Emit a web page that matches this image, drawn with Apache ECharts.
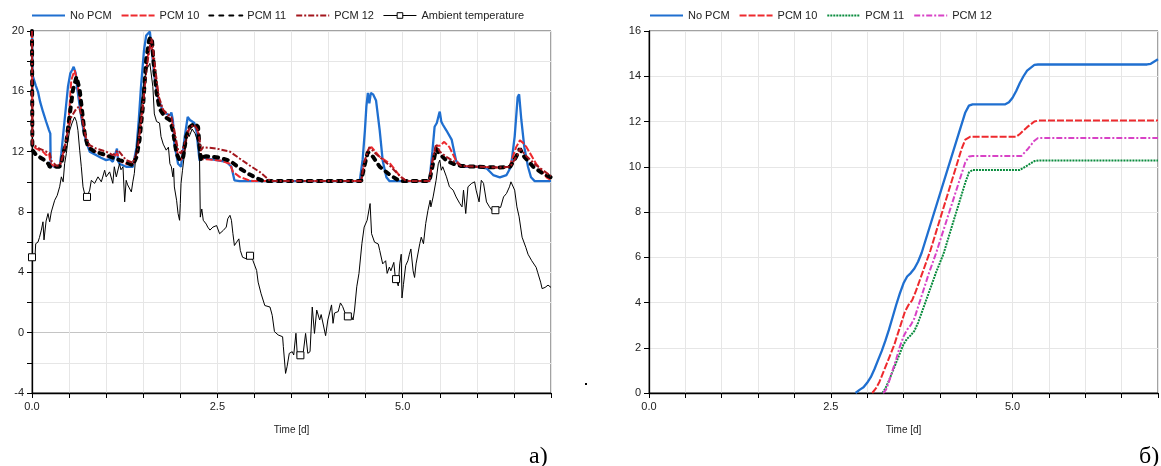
<!DOCTYPE html>
<html><head><meta charset="utf-8">
<script src="https://cdn.jsdelivr.net/npm/echarts@6/dist/echarts.min.js"></script>
<style>html,body{margin:0;padding:0;background:#fff}#c{width:1161px;height:466px}</style>
</head><body><div id="c"></div>
<script>
// ---------- Left chart (a): temperatures, [day, °C] ----------
const noPcmA = [[0,20],[0.005,17.2],[0.013,16.97],[0.05,16.4],[0.081,15.97],[0.11,15.3],[0.148,14.65],[0.19,14.0],[0.229,13.43],[0.247,13.2],[0.252,11.1],[0.30,11.0],[0.373,11.0],[0.396,11.9],[0.44,14.1],[0.485,16.3],[0.517,17.2],[0.545,17.45],[0.562,17.63],[0.575,17.7],[0.59,17.2],[0.607,16.3],[0.635,15.3],[0.665,14.3],[0.695,13.4],[0.724,12.77],[0.778,12.0],[0.868,11.77],[0.93,11.6],[1.0,11.44],[1.05,11.5],[1.09,11.33],[1.146,12.2],[1.16,11.4],[1.18,11.2],[1.27,11.0],[1.36,11.0],[1.41,12.3],[1.44,14.1],[1.47,16.3],[1.51,18.7],[1.54,19.7],[1.59,19.96],[1.62,18.5],[1.65,17.0],[1.70,15.6],[1.77,14.6],[1.82,14.5],[1.86,14.4],[1.88,14.6],[1.90,14.1],[1.92,12.5],[1.97,11.2],[2.01,11.0],[2.06,13.0],[2.10,14.3],[2.13,14.1],[2.15,14.2],[2.19,13.9],[2.22,13.3],[2.24,12.3],[2.26,11.4],[2.29,11.66],[2.35,11.55],[2.49,11.44],[2.62,11.33],[2.69,11.0],[2.71,10.55],[2.73,10.1],[2.80,10.05],[4.42,10.05],[4.46,11.5],[4.49,13.4],[4.51,15.0],[4.53,15.9],[4.55,15.2],[4.57,15.9],[4.60,15.8],[4.64,15.4],[4.69,13.4],[4.73,11.4],[4.78,10.3],[4.82,10.05],[5.36,10.05],[5.40,12.0],[5.43,13.65],[5.46,13.9],[5.49,14.5],[5.50,14.65],[5.52,14.0],[5.54,13.8],[5.59,13.4],[5.66,12.8],[5.72,11.4],[5.79,11.0],[5.86,11.0],[6.0,11.0],[6.13,10.9],[6.22,10.45],[6.31,10.3],[6.40,10.45],[6.46,11.0],[6.51,13.0],[6.55,15.6],[6.57,15.8],[6.60,14.1],[6.64,12.3],[6.69,11.0],[6.73,10.3],[6.78,10.05],[7.0,10.05]];
const pcm10A = [[0,20],[0.005,12.4],[0.058,12.2],[0.148,12.0],[0.19,11.77],[0.23,11.88],[0.25,11.2],[0.31,11.0],[0.37,11.04],[0.42,11.9],[0.46,12.6],[0.50,14.5],[0.53,16.75],[0.575,17.4],[0.60,16.9],[0.62,16.3],[0.665,14.75],[0.71,13.2],[0.755,12.43],[0.82,12.1],[0.9,11.9],[1.0,11.7],[1.09,11.6],[1.15,11.9],[1.18,11.4],[1.27,11.2],[1.36,11.1],[1.38,11.44],[1.43,12.3],[1.47,14.1],[1.52,16.3],[1.56,18.3],[1.60,19.2],[1.62,18.74],[1.65,17.4],[1.69,16.1],[1.72,15.2],[1.77,14.76],[1.83,14.3],[1.88,14.1],[1.92,13.2],[1.97,11.66],[2.01,11.44],[2.06,12.1],[2.10,13.4],[2.17,13.76],[2.22,13.65],[2.25,13.0],[2.28,11.8],[2.31,11.5],[2.35,11.5],[2.55,11.4],[2.67,11.2],[2.71,10.66],[2.80,10.33],[2.93,10.1],[2.98,10.05],[4.44,10.05],[4.48,11.2],[4.53,12.1],[4.58,12.3],[4.60,12.25],[4.69,11.66],[4.83,11.2],[4.96,10.4],[5.05,10.05],[5.36,10.05],[5.40,11.3],[5.45,12.4],[5.50,12.4],[5.56,12.65],[5.63,12.3],[5.72,11.4],[5.79,11.05],[6.0,11.0],[6.3,10.95],[6.44,11.0],[6.53,12.3],[6.58,12.75],[6.62,12.6],[6.67,12.3],[6.80,11.2],[6.94,10.3],[7.0,10.1]];
const pcm11A = [[0,20],[0.005,12.1],[0.058,11.77],[0.15,11.5],[0.22,11.2],[0.24,11.0],[0.37,11.0],[0.40,11.3],[0.42,11.9],[0.46,12.5],[0.51,14.5],[0.553,16.1],[0.60,16.97],[0.615,17.0],[0.643,16.1],[0.68,14.5],[0.71,13.2],[0.755,12.3],[0.845,12.0],[1.0,11.77],[1.09,11.6],[1.18,11.44],[1.27,11.3],[1.36,11.1],[1.41,11.66],[1.45,12.77],[1.5,15.2],[1.54,18.1],[1.58,19.4],[1.60,19.6],[1.62,19.3],[1.64,17.9],[1.68,15.9],[1.72,14.87],[1.79,14.3],[1.86,14.1],[1.90,13.4],[1.95,11.88],[1.99,11.44],[2.04,11.66],[2.08,13.0],[2.13,13.65],[2.19,13.87],[2.24,13.65],[2.26,12.3],[2.28,11.44],[2.31,11.66],[2.35,11.7],[2.53,11.6],[2.67,11.4],[2.80,10.9],[2.93,10.5],[3.05,10.2],[3.12,10.05],[4.44,10.05],[4.48,11.0],[4.53,11.98],[4.60,11.66],[4.69,11.0],[4.83,10.45],[4.96,10.05],[5.36,10.05],[5.40,11.0],[5.45,12.2],[5.49,11.9],[5.59,11.4],[5.68,11.2],[5.79,11.05],[6.0,11.0],[6.3,10.95],[6.45,11.0],[6.53,11.66],[6.58,12.2],[6.64,11.66],[6.76,11.0],[6.89,10.55],[7.0,10.3]];
const pcm12A = [[0,20],[0.005,12.5],[0.10,12.2],[0.24,11.9],[0.26,11.4],[0.33,11.06],[0.38,11.1],[0.42,11.8],[0.485,13.4],[0.53,14.3],[0.60,14.87],[0.634,14.98],[0.68,14.1],[0.724,13.0],[0.778,12.43],[0.868,12.2],[1.0,12.0],[1.09,11.77],[1.16,12.1],[1.27,11.44],[1.36,11.26],[1.41,11.88],[1.45,13.2],[1.50,15.2],[1.54,17.4],[1.59,18.96],[1.61,19.5],[1.63,18.96],[1.67,17.2],[1.71,15.65],[1.77,14.76],[1.83,14.5],[1.88,14.3],[1.92,13.4],[1.97,12.1],[2.01,11.88],[2.06,12.55],[2.13,13.65],[2.19,13.76],[2.24,13.4],[2.28,12.1],[2.31,12.3],[2.33,12.4],[2.49,12.2],[2.67,12.0],[2.80,11.55],[2.93,11.1],[3.07,10.66],[3.18,10.2],[3.22,10.05],[4.44,10.05],[4.48,11.3],[4.55,12.3],[4.64,11.85],[4.83,11.05],[4.98,10.3],[5.05,10.05],[5.36,10.05],[5.40,11.4],[5.45,12.5],[5.50,12.0],[5.59,11.66],[5.79,11.05],[6.0,11.0],[6.3,10.95],[6.45,11.0],[6.55,11.8],[6.58,12.2],[6.67,11.7],[6.80,11.1],[6.98,10.45],[7.0,10.4]];
const ambientA = [[0,5.0],[0.02,4.95],[0.04,5.0],[0.05,5.9],[0.08,6.0],[0.1,6.3],[0.126,6.8],[0.148,7.35],[0.162,6.15],[0.19,7.4],[0.216,7.9],[0.238,7.35],[0.26,8.0],[0.306,8.78],[0.34,9.1],[0.373,9.67],[0.396,10.33],[0.42,10.0],[0.44,11.2],[0.463,11.88],[0.485,12.77],[0.508,13.4],[0.54,13.9],[0.575,14.3],[0.6,14.0],[0.62,13.4],[0.643,12.1],[0.665,11.0],[0.688,9.67],[0.71,9.2],[0.742,9.0],[0.778,9.45],[0.80,10.1],[0.845,9.9],[0.89,10.33],[0.935,10.0],[0.98,10.77],[1.0,10.33],[1.047,10.66],[1.09,9.9],[1.11,11.0],[1.137,10.33],[1.18,11.2],[1.2,10.8],[1.227,11.0],[1.25,8.67],[1.27,10.1],[1.29,9.8],[1.34,9.33],[1.36,10.0],[1.38,10.55],[1.41,12.3],[1.45,14.1],[1.5,16.3],[1.54,17.4],[1.59,17.85],[1.61,17.9],[1.63,16.3],[1.65,14.5],[1.68,14.0],[1.72,13.9],[1.74,13.0],[1.77,12.5],[1.79,12.6],[1.81,12.1],[1.84,12.3],[1.86,11.2],[1.88,11.0],[1.90,10.33],[1.91,10.9],[1.92,9.66],[1.95,8.78],[1.97,7.9],[1.99,7.45],[2.0,8.56],[2.01,9.9],[2.03,10.77],[2.06,12.0],[2.09,13.3],[2.12,13.0],[2.16,13.5],[2.2,13.2],[2.24,12.6],[2.26,11.4],[2.27,7.66],[2.29,8.2],[2.31,7.45],[2.35,7.2],[2.37,7.0],[2.40,6.8],[2.44,7.0],[2.49,7.1],[2.53,6.56],[2.58,6.78],[2.62,7.0],[2.64,7.55],[2.67,7.78],[2.69,7.45],[2.71,6.56],[2.73,5.78],[2.76,6.0],[2.79,6.22],[2.81,5.45],[2.84,5.0],[2.89,4.9],[2.94,5.1],[2.98,4.78],[3.03,4.12],[3.05,3.35],[3.09,2.58],[3.14,1.8],[3.21,1.7],[3.24,1.15],[3.27,0.07],[3.32,-0.15],[3.38,-0.27],[3.39,-0.93],[3.42,-2.7],[3.44,-2.26],[3.47,-1.37],[3.51,-1.26],[3.53,-1.48],[3.55,-0.49],[3.56,-0.04],[3.58,-1.6],[3.62,-1.5],[3.66,-1.26],[3.69,-0.05],[3.72,-1.37],[3.75,-1.26],[3.78,1.7],[3.81,-0.05],[3.84,1.5],[3.88,0.84],[3.9,1.2],[3.96,-0.2],[3.99,0.84],[4.04,1.84],[4.06,0.62],[4.08,1.3],[4.13,1.4],[4.16,1.97],[4.19,1.73],[4.23,1.2],[4.26,1.08],[4.31,1.08],[4.33,0.84],[4.35,1.5],[4.38,3.04],[4.41,3.93],[4.43,4.04],[4.45,5.92],[4.48,7.0],[4.52,7.45],[4.54,8.0],[4.56,8.56],[4.58,6.56],[4.62,6.0],[4.67,5.88],[4.69,5.45],[4.73,4.56],[4.77,4.77],[4.79,3.93],[4.82,4.35],[4.84,4.1],[4.88,4.66],[4.90,3.66],[4.91,3.55],[4.94,3.1],[4.96,4.56],[4.98,5.2],[4.99,2.3],[5.01,3.2],[5.04,4.45],[5.07,4.77],[5.09,5.2],[5.11,5.55],[5.14,4.1],[5.16,3.66],[5.18,4.56],[5.23,5.9],[5.25,6.33],[5.28,5.9],[5.31,7.23],[5.34,8.1],[5.37,8.78],[5.38,8.34],[5.41,9.0],[5.45,10.1],[5.48,11.2],[5.50,11.44],[5.52,10.77],[5.54,11.0],[5.59,10.33],[5.63,9.67],[5.68,9.45],[5.72,9.0],[5.77,8.56],[5.80,8.34],[5.82,9.45],[5.85,7.9],[5.88,9.67],[5.93,9.9],[5.97,10.0],[5.99,9.45],[6.03,8.67],[6.06,10.1],[6.09,9.9],[6.13,8.67],[6.17,8.34],[6.22,8.0],[6.25,8.12],[6.28,8.34],[6.32,8.3],[6.36,9.0],[6.40,9.23],[6.44,9.67],[6.46,10.0],[6.51,9.45],[6.54,8.34],[6.57,7.68],[6.61,6.33],[6.66,5.66],[6.69,5.2],[6.74,4.77],[6.77,4.55],[6.80,4.33],[6.82,4.0],[6.86,3.35],[6.88,2.92],[6.92,3.0],[6.94,2.92],[6.96,3.15],[7.0,3.0]];
const ambientMarkerDays = [0, 0.742, 2.94, 3.62, 4.26, 4.91, 6.25];

// ---------- Right chart (б): [day, value] ----------
const noPcmB = [[2.84,0],[2.9,0.15],[2.95,0.25],[3.0,0.45],[3.05,0.7],[3.1,1.05],[3.15,1.45],[3.2,1.85],[3.25,2.3],[3.3,2.8],[3.35,3.35],[3.4,3.9],[3.45,4.4],[3.5,4.85],[3.55,5.15],[3.6,5.3],[3.65,5.5],[3.7,5.8],[3.75,6.2],[4.35,12.4],[4.4,12.7],[4.45,12.76],[4.9,12.76],[4.95,12.85],[5.0,13.05],[5.05,13.35],[5.1,13.7],[5.15,14.0],[5.2,14.25],[5.3,14.5],[5.35,14.52],[6.85,14.52],[6.9,14.55],[6.95,14.65],[7.0,14.75]];
const pcm10B = [[3.07,0],[3.12,0.2],[3.17,0.5],[3.22,0.9],[3.27,1.3],[3.32,1.7],[3.37,2.1],[3.42,2.6],[3.47,3.1],[3.52,3.6],[3.57,3.9],[3.62,4.1],[3.67,4.5],[3.72,4.95],[3.77,5.4],[3.82,5.85],[3.87,6.3],[4.3,10.8],[4.35,11.2],[4.42,11.33],[5.05,11.33],[5.1,11.45],[5.2,11.75],[5.3,12.0],[5.35,12.04],[7.0,12.04]];
const pcm11B = [[3.21,0],[3.25,0.2],[3.3,0.55],[3.35,0.95],[3.4,1.35],[3.45,1.75],[3.5,2.15],[3.55,2.4],[3.6,2.55],[3.65,2.75],[3.7,3.1],[3.75,3.55],[3.8,4.0],[3.85,4.45],[3.9,4.9],[3.95,5.35],[4.0,5.75],[4.05,6.15],[4.35,9.3],[4.4,9.75],[4.45,9.86],[5.1,9.86],[5.2,10.05],[5.3,10.25],[5.37,10.28],[7.0,10.28]];
const pcm12B = [[3.22,0],[3.26,0.15],[3.3,0.5],[3.35,1.0],[3.4,1.5],[3.45,2.05],[3.5,2.5],[3.55,2.8],[3.6,3.0],[3.65,3.3],[3.7,3.8],[3.75,4.3],[3.8,4.8],[3.85,5.3],[3.9,5.75],[3.95,6.2],[4.35,10.2],[4.4,10.45],[4.45,10.47],[5.12,10.47],[5.2,10.75],[5.3,11.15],[5.35,11.27],[7.0,11.27]];

const legendA = ['No PCM', 'PCM 10', 'PCM 11', 'PCM 12', 'Ambient temperature'];
const legendB = ['No PCM ', 'PCM 10 ', 'PCM 11 ', 'PCM 12 '];

const FONT = '"Liberation Sans", Arial, sans-serif';
const GRIDC = '#e6e6e6';
const isMult = (v, s) => Math.abs(v / s - Math.round(v / s)) < 1e-6;

function xAxisCfg(gi) {
  return {
    type: 'value', gridIndex: gi, min: 0, max: 7, interval: 0.5,
    name: 'Time [d]', nameLocation: 'middle', nameGap: 32,
    nameTextStyle: { fontSize: 10, color: '#222', fontFamily: FONT },
    axisLine: { show: true, onZero: false, lineStyle: { color: '#000', width: 1.3 } },
    axisTick: { show: true, inside: false, length: 5, lineStyle: { color: '#000' } },
    axisLabel: { fontSize: 11, color: '#222', fontFamily: FONT, margin: 8,
      formatter: v => isMult(v, 2.5) ? v.toFixed(1) : '' },
    splitLine: { show: true, lineStyle: { color: GRIDC, width: 1 } }
  };
}
function yAxisCfg(gi, min, max, labStep, splitColors) {
  return {
    type: 'value', gridIndex: gi, min: min, max: max, interval: 2,
    axisLine: { show: true, onZero: false, lineStyle: { color: '#000', width: 1.3 } },
    axisTick: { show: true, inside: false, length: 5, lineStyle: { color: '#000' } },
    axisLabel: { fontSize: 11, color: '#222', fontFamily: FONT, margin: 8,
      formatter: v => isMult(v, labStep) ? String(v) : '' },
    splitLine: { show: true, lineStyle: { color: splitColors, width: 1 } }
  };
}
const leftSplit = [];
for (let v = -4; v <= 20; v += 2) leftSplit.push(v === 0 ? '#c4c4c4' : GRIDC);

function lineSeries(name, data, color, width, type, xi, cap) {
  return {
    name: name, type: 'line', xAxisIndex: xi, yAxisIndex: xi, data: data,
    symbol: 'none', smooth: false, animation: false,
    lineStyle: { color: color, width: width, type: type, cap: cap || 'butt' },
    itemStyle: { color: color }
  };
}

const ambientData = ambientA.map(p =>
  ambientMarkerDays.some(d => Math.abs(d - p[0]) < 1e-9) ? p : { value: p, symbol: 'none' });

const BLUE = '#1f6fd0', RED = '#ee2a2e', DRED = '#a3161d', GREEN = '#0b8c3e', PINK = '#d843c6';

function legendItems(names) {
  return names.map(n => n === 'Ambient temperature'
    ? { name: n, itemStyle: { opacity: 1, color: '#fff', borderColor: '#000', borderWidth: 1 }, lineStyle: { width: 1 } }
    : { name: n, itemStyle: { opacity: 0 } });
}
const legendText = { fontSize: 11, color: '#222', fontFamily: FONT };

const option = {
  animation: false,
  backgroundColor: '#fff',
  textStyle: { fontFamily: FONT },
  legend: [
    { data: legendItems(legendA), left: 31, top: 10, padding: 0, itemWidth: 33, itemHeight: 7, itemGap: 9,
      textStyle: legendText, formatter: n => n.trim() },
    { data: legendItems(legendB), left: 649, top: 10, padding: 0, itemWidth: 33, itemHeight: 7, itemGap: 9,
      textStyle: legendText, formatter: n => n.trim() }
  ],
  grid: [
    { left: 32, top: 31, width: 519, height: 362, show: true, borderColor: '#444', borderWidth: 1 },
    { left: 649, top: 31, width: 516, height: 362, show: true, borderColor: '#444', borderWidth: 1 }
  ],
  xAxis: [xAxisCfg(0), xAxisCfg(1)],
  yAxis: [yAxisCfg(0, -4, 20, 4, leftSplit), yAxisCfg(1, 0, 16, 2, GRIDC)],
  series: [
    lineSeries(legendA[0], noPcmA, BLUE, 2.3, 'solid', 0),
    lineSeries(legendA[1], pcm10A, RED, 2, [7, 2], 0),
    lineSeries(legendA[2], pcm11A, '#000', 4, [4, 6], 0, 'round'),
    lineSeries(legendA[3], pcm12A, DRED, 2, [6, 2, 2, 2], 0),
    {
      name: legendA[4], type: 'line', xAxisIndex: 0, yAxisIndex: 0, data: ambientData,
      symbol: 'rect', symbolSize: 7, showSymbol: true, animation: false,
      lineStyle: { color: '#000', width: 1 },
      itemStyle: { color: '#fff', borderColor: '#000', borderWidth: 1 }
    },
    lineSeries(legendB[0], noPcmB, BLUE, 2.3, 'solid', 1),
    lineSeries(legendB[1], pcm10B, RED, 2, [7, 2], 1),
    lineSeries(legendB[2], pcm11B, GREEN, 2, [2, 1], 1),
    lineSeries(legendB[3], pcm12B, PINK, 2, [6, 2, 2, 2], 1)
  ],
  graphic: [
    { type: 'text', left: 529, top: 445, style: { text: 'а)', font: '24px "Liberation Serif", "DejaVu Serif", serif', fill: '#000' } },
    { type: 'text', left: 1139, top: 445, style: { text: 'б)', font: '24px "Liberation Serif", "DejaVu Serif", serif', fill: '#000' } },
    { type: 'rect', left: 585, top: 383, shape: { width: 2, height: 2 }, style: { fill: '#000' } }
  ]
};
const chart = echarts.init(document.getElementById('c'), null, { renderer: 'canvas' });
chart.setOption(option);
</script></body></html>
